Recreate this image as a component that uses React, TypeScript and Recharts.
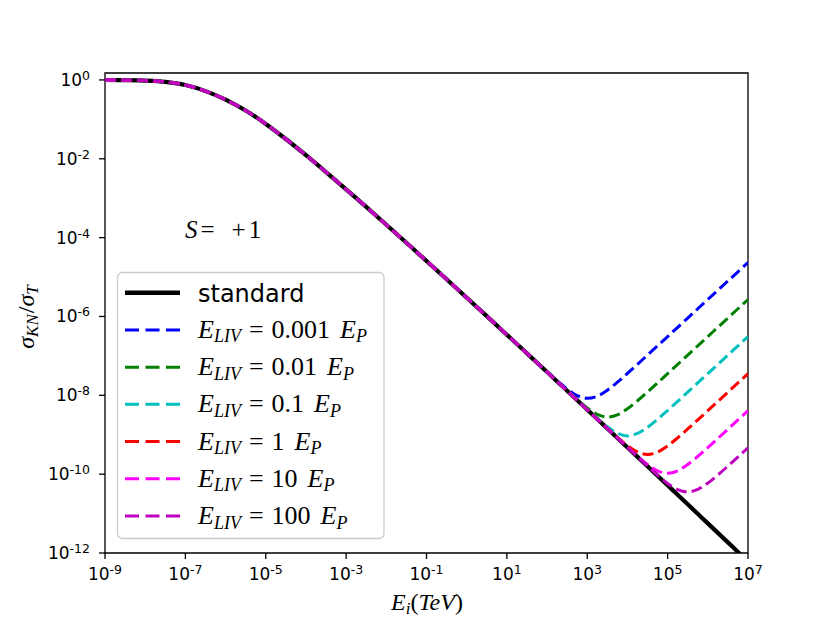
import React from 'react';
import { LineChart, Line, XAxis, YAxis, ReferenceArea } from 'recharts';

// photon energy in TeV (half decades up to 10^1.5, quarter decades after)
const energy = [
  1e-9, 3.162e-9, 1e-8, 3.162e-8, 1e-7, 3.162e-7, 1e-6, 3.162e-6, 1e-5, 3.162e-5, 1e-4,
  3.162e-4, 1e-3, 3.162e-3, 1e-2, 3.162e-2, 0.1, 0.3162, 1, 3.162, 10, 31.62,
  56.23, 100, 177.8, 316.2, 562.3, 1000, 1778, 3162, 5623, 1e4, 1.778e4,
  3.162e4, 5.623e4, 1e5, 1.778e5, 3.162e5, 5.623e5, 1e6, 1.778e6, 3.162e6, 5.623e6, 1e7,
];

const standard = [
  0.996, 0.988, 0.963, 0.893, 0.741, 0.521, 0.3175, 0.1674, 0.0766, 0.0317, 0.01232,
  4.6e-3, 1.68e-3, 6.01e-4, 2.12e-4, 7.41e-5, 2.56e-5, 8.8e-6, 3.0e-6, 1.02e-6, 3.45e-7, 1.16e-7,
  6.72e-8, 3.89e-8, 2.25e-8, 1.3e-8, 7.5e-9, 4.33e-9, 2.5e-9, 1.44e-9, 8.29e-10, 4.77e-10, 2.74e-10,
  1.58e-10, 9.07e-11, 5.21e-11, 2.99e-11, 1.72e-11, 9.86e-12, 5.65e-12, 3.24e-12, 1.86e-12, 1.06e-12, 6.09e-13,
];

// LIV curves follow the standard one until they split off; only the tails are listed
const liv0001 = [
  3.94e-8, 2.33e-8, 1.44e-8, 9.86e-9, 8.41e-9, 9.51e-9, 1.35e-8, 2.15e-8, 3.6e-8, 6.12e-8, 1.05e-7,
  1.8e-7, 3.09e-7, 5.31e-7, 9.12e-7, 1.57e-6, 2.69e-6, 4.62e-6, 7.94e-6, 1.36e-5, 2.34e-5,
];
const liv001 = [
  2.26e-8, 1.32e-8, 7.78e-9, 4.8e-9, 3.3e-9, 2.82e-9, 3.2e-9, 4.55e-9, 7.28e-9, 1.22e-8,
  2.07e-8, 3.55e-8, 6.1e-8, 1.05e-7, 1.8e-7, 3.09e-7, 5.31e-7, 9.12e-7, 1.57e-6, 2.69e-6,
];
const liv01 = [
  7.53e-9, 4.38e-9, 2.59e-9, 1.6e-9, 1.1e-9, 9.27e-10, 1.08e-9, 1.54e-9, 2.46e-9,
  4.12e-9, 7.03e-9, 1.2e-8, 2.07e-8, 3.55e-8, 6.1e-8, 1.05e-7, 1.8e-7, 3.09e-7,
];
const liv1 = [
  2.51e-9, 1.46e-9, 8.61e-10, 5.31e-10, 3.67e-10, 3.16e-10, 3.63e-10, 5.2e-10,
  8.34e-10, 1.4e-9, 2.38e-9, 4.07e-9, 7.0e-9, 1.2e-8, 2.07e-8, 3.55e-8,
];
const liv10 = [
  8.32e-10, 4.83e-10, 2.85e-10, 1.76e-10, 1.22e-10, 1.06e-10, 1.22e-10,
  1.76e-10, 2.82e-10, 4.73e-10, 8.07e-10, 1.38e-9, 2.37e-9, 4.07e-9,
];
const liv100 = [
  2.75e-10, 1.6e-10, 9.42e-11, 5.82e-11, 4.06e-11, 3.54e-11,
  4.11e-11, 5.93e-11, 9.55e-11, 1.6e-10, 2.74e-10, 4.68e-10,
];

const livSeries = [
  { key: 'liv0001', tail: liv0001, start: 23, color: '#0000ff', label: '0.001' },
  { key: 'liv001', tail: liv001, start: 24, color: '#008000', label: '0.01' },
  { key: 'liv01', tail: liv01, start: 26, color: '#00bfbf', label: '0.1' },
  { key: 'liv1', tail: liv1, start: 28, color: '#ff0000', label: '1' },
  { key: 'liv10', tail: liv10, start: 30, color: '#ff00ff', label: '10' },
  { key: 'liv100', tail: liv100, start: 32, color: '#bf00bf', label: '100' },
];

const xTicks = [1e-9, 1e-7, 1e-5, 1e-3, 1e-1, 1e1, 1e3, 1e5, 1e7];
const yTicks = [1, 1e-2, 1e-4, 1e-6, 1e-8, 1e-10, 1e-12];

const rows = energy.map((e, i) => {
  const row: Record<string, number> = { e, standard: standard[i] };
  livSeries.forEach((s) => {
    row[s.key] = i < s.start ? standard[i] : s.tail[i - s.start];
  });
  return row;
});

const SANS = 'DejaVu Sans';
const MATH = 'Liberation Serif';

const XTick = ({ x, y, payload }: any) => {
  const exp = Math.round(Math.log10(payload.value));
  return (
    <text x={x} y={y + 19} textAnchor="middle" fontFamily={SANS} fontSize={17} fill="#000">
      <tspan>10</tspan>
      <tspan dy={-6} fontSize={12.5}>{exp}</tspan>
    </text>
  );
};

const YTick = ({ x, y, payload }: any) => {
  const exp = Math.round(Math.log10(payload.value));
  return (
    <text x={x - 7} y={y + 6} textAnchor="end" fontFamily={SANS} fontSize={17} fill="#000">
      <tspan>10</tspan>
      <tspan dy={-6} fontSize={12.5}>{exp}</tspan>
    </text>
  );
};

const XLabel = () => (
  <text x={427} y={610} textAnchor="middle" fontFamily={MATH} fontSize={24} fill="#000">
    <tspan fontStyle="italic">E</tspan>
    <tspan fontStyle="italic" fontSize={17} dy={4}>i</tspan>
    <tspan dy={-4}>(</tspan>
    <tspan fontStyle="italic">TeV</tspan>
    <tspan>)</tspan>
  </text>
);

const YLabel = () => (
  <text x={34} y={317} transform="rotate(-90, 34, 317)" textAnchor="middle" fontFamily={MATH} fontSize={24} fill="#000">
    <tspan fontStyle="italic">σ</tspan>
    <tspan fontStyle="italic" fontSize={17} dy={4}>KN</tspan>
    <tspan dy={-4} dx={1}>/</tspan>
    <tspan fontStyle="italic">σ</tspan>
    <tspan fontStyle="italic" fontSize={17} dy={4}>T</tspan>
  </text>
);

const Overlay = () => {
  const rowY = (i: number) => 292.7 + 37.22 * i;
  return (
    <svg width={830} height={622} style={{ position: 'absolute', left: 0, top: 0, pointerEvents: 'none' }}>
      <text x={185} y={238} fontFamily={MATH} fontSize={25} fill="#000">
        <tspan fontStyle="italic">S</tspan>
        <tspan dx={3}>=</tspan>
        <tspan dx={17}>+</tspan>
        <tspan dx={3}>1</tspan>
      </text>

      <rect x={117.5} y={272.5} width={266.5} height={266} rx={5} fill="#fff" fillOpacity={0.8} stroke="#cccccc" strokeWidth={1.3} />
      <line x1={125} x2={180} y1={rowY(0)} y2={rowY(0)} stroke="#000" strokeWidth={4.5} />
      <text x={198} y={rowY(0) + 9} fontFamily={SANS} fontSize={24} fill="#000">standard</text>
      {livSeries.map((s, i) => (
        <g key={s.key}>
          <line x1={125} x2={180} y1={rowY(i + 1)} y2={rowY(i + 1)} stroke={s.color} strokeWidth={3} strokeDasharray="14 6.5" />
          <text x={198} y={rowY(i + 1) + 8} fontFamily={MATH} fontSize={26} fill="#000">
            <tspan fontStyle="italic">E</tspan>
            <tspan fontStyle="italic" fontSize={18} dy={4.5}>LIV</tspan>
            <tspan dy={-4.5} dx={8}>=</tspan>
            <tspan dx={8}>{s.label}</tspan>
            <tspan dx={10} fontStyle="italic">E</tspan>
            <tspan fontStyle="italic" fontSize={18} dy={4.5}>P</tspan>
          </text>
        </g>
      ))}
    </svg>
  );
};

export default function App() {
  return (
    <div style={{ position: 'absolute', left: 0, top: 0, width: 830, height: 622, background: '#fff' }}>
      <LineChart width={830} height={622} data={rows} margin={{ top: 73, right: 82, left: 0, bottom: 0 }}>
        <XAxis
          dataKey="e"
          type="number"
          scale="log"
          domain={[1e-9, 1e7]}
          allowDataOverflow
          ticks={xTicks}
          tick={<XTick />}
          tickSize={6}
          tickLine={{ stroke: '#000', strokeWidth: 1.3 }}
          axisLine={false}
          height={69}
          label={<XLabel />}
        />
        <YAxis
          type="number"
          scale="log"
          domain={[1e-12, 1.5]}
          allowDataOverflow
          ticks={yTicks}
          tick={<YTick />}
          tickSize={6}
          tickLine={{ stroke: '#000', strokeWidth: 1.3 }}
          axisLine={false}
          width={105}
          label={<YLabel />}
        />
        <ReferenceArea x1={1e-9} x2={1e7} y1={1e-12} y2={1.5} fill="none" stroke="#000" strokeWidth={1.3} />
        <Line type="monotone" dataKey="standard" stroke="#000" strokeWidth={4.2} dot={false} isAnimationActive={false} />
        {livSeries.map((s) => (
          <Line
            key={s.key}
            type="monotone"
            dataKey={s.key}
            stroke={s.color}
            strokeWidth={3}
            strokeDasharray="11 5"
            dot={false}
            isAnimationActive={false}
          />
        ))}
      </LineChart>
      <Overlay />
    </div>
  );
}
